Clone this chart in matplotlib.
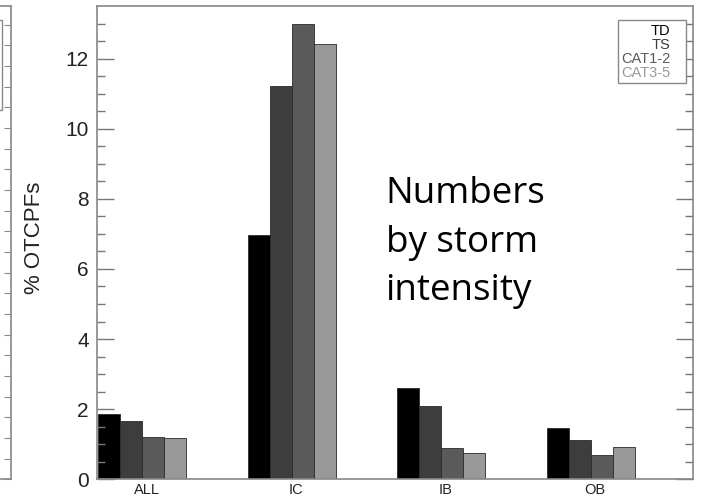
import matplotlib.pyplot as plt
import matplotlib.patches as mpatches
import numpy as np

regions = ['ALL', 'IC', 'IB', 'OB']
classes = ['TD', 'TS', 'CAT1-2', 'CAT3-5']
td = [1.86, 6.96, 2.59, 1.45]
ts = [1.67, 11.21, 2.10, 1.11]
cat12 = [1.21, 12.98, 0.90, 0.70]
cat35 = [1.17, 12.41, 0.76, 0.93]
colors = ['#000000', '#3d3d3d', '#5a5a5a', '#999999']

W, H = 705, 501
fig = plt.figure(figsize=(W / 100, H / 100), dpi=100)
plt.rcParams['font.family'] = ['Liberation Sans', 'DejaVu Sans']

# axes box in pixels
x0, x1, y_top, y_bot = 97, 693.3, 6, 479.3
ax = fig.add_axes([x0 / W, 1 - y_bot / H, (x1 - x0) / W, (y_bot - y_top) / H])

x = np.arange(len(regions))
bw = 0.147
for i, vals in enumerate([td, ts, cat12, cat35]):
    ax.bar(x + (i - 1.5) * bw, vals, bw, color=colors[i], edgecolor='#2a2a2a',
           linewidth=0.6, label=classes[i])

ax.set_xlim(-0.303, 3.686)
ax.set_ylim(0, 13.5)
ax.set_xticks(x + 0.03)
ax.set_xticklabels(regions, fontsize=10.5, color='#222222')
ax.tick_params(axis='x', length=0, pad=3)
ax.set_yticks(np.arange(0, 13, 2))
ax.set_yticks(np.arange(0, 13.5, 0.5), minor=True)
ax.tick_params(axis='y', which='both', direction='in', right=True, color='#777777',
               labelsize=15, labelcolor='#222222', pad=6)
ax.tick_params(axis='y', which='major', length=12, width=1)
ax.tick_params(axis='y', which='minor', length=6, width=1)
for s in ax.spines.values():
    s.set_color('#888888')
    s.set_linewidth(1.2)
ax.set_ylabel('% OTCPFs', fontsize=16, color='#222222')
ax.yaxis.set_label_coords(-0.087, 0.51)

leg = ax.legend(loc='upper right', bbox_to_anchor=(0.9877, 0.9704), borderaxespad=0,
                markerfirst=False, handlelength=0.6, handletextpad=0.2, labelspacing=0.0,
                borderpad=0.25, fontsize=10.5, fancybox=False, framealpha=1,
                edgecolor='#888888', labelcolor=colors)
leg.get_frame().set_linewidth(1)
for h in leg.legend_handles:
    h.set_visible(False)

ax.text(0.484, 0.64, 'Numbers\nby storm\nintensity', transform=ax.transAxes,
        fontsize=26.5, family='Open Sans', color='black', va='top', ha='left',
        linespacing=1.45)

# sliver of the neighbouring panel on the left edge
ax2 = fig.add_axes([(10.5 - 100) / W, 1 - y_bot / H, 100 / W, (y_bot - y_top) / H])
ax2.set_xlim(0, 1)
ax2.set_ylim(0, 22.9)
ax2.set_xticks([])
ax2.set_yticks(np.arange(0, 23, 1))
ax2.tick_params(axis='y', direction='in', left=False, right=True, labelleft=False,
                length=5, color='#888888')
for s in ax2.spines.values():
    s.set_color('#888888')
    s.set_linewidth(1.2)
ax2.spines['left'].set_visible(False)
ax2.add_patch(mpatches.Rectangle((0.5, 0.780), 0.41, 0.19, transform=ax2.transAxes,
                                 fill=False, edgecolor='#888888', linewidth=1))

fig.savefig('out.png', dpi=100)
